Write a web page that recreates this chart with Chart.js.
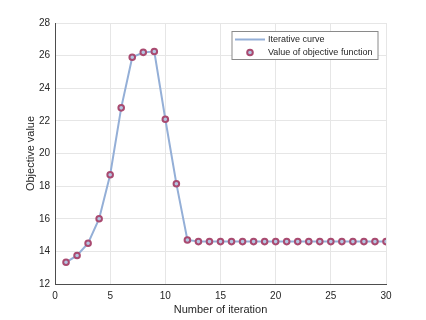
<!DOCTYPE html>
<html>
<head>
<meta charset="utf-8">
<script src="https://cdn.jsdelivr.net/npm/chart.js@4"></script>
<style>
html,body{margin:0;padding:0;background:#fff;}
#wrap{width:426px;height:320px;}
</style>
</head>
<body>
<div id="wrap"><canvas id="c" width="426" height="320"></canvas></div>
<script>
const iterations = [1,2,3,4,5,6,7,8,9,10,11,12,13,14,15,16,17,18,19,20,21,22,23,24,25,26,27,28,29,30];
const objectiveValues = [13.33,13.75,14.5,16.0,18.7,22.8,25.9,26.2,26.25,22.1,18.15,14.7,14.6,14.6,14.6,14.6,14.6,14.6,14.6,14.6,14.6,14.6,14.6,14.6,14.6,14.6,14.6,14.6,14.6,14.6];
const xTicks = [0,5,10,15,20,25,30];
const yTicks = [12,14,16,18,20,22,24,26,28];
const seriesNames = ['Iterative curve','Value of objective function'];

const FONT = 'Liberation Sans, Arial, Helvetica, sans-serif';
const lineColor = '#94afd7';
const markerEdge = '#a94a70';
const markerFill = '#b4c6e2';

const pts = iterations.map((x,i)=>({x:x,y:objectiveValues[i]}));

const legendPlugin = {
  id:'boxLegend',
  afterDraw(chart){
    const ctx = chart.ctx;
    const x0 = 232, y0 = 31.5, w = 146, h = 28;
    ctx.save();
    ctx.fillStyle = '#fff';
    ctx.fillRect(x0,y0,w,h);
    ctx.strokeStyle = '#8a8a8a';
    ctx.lineWidth = 1;
    ctx.strokeRect(x0,y0,w,h);
    ctx.strokeStyle = lineColor;
    ctx.lineWidth = 2;
    ctx.beginPath(); ctx.moveTo(235,39.5); ctx.lineTo(265,39.5); ctx.stroke();
    ctx.beginPath(); ctx.arc(250,52.5,2.8,0,Math.PI*2);
    ctx.fillStyle = markerFill; ctx.fill();
    ctx.strokeStyle = markerEdge; ctx.lineWidth = 2; ctx.stroke();
    ctx.fillStyle = '#262626';
    ctx.font = '9px ' + FONT;
    ctx.textBaseline = 'middle';
    ctx.textAlign = 'left';
    ctx.fillText(seriesNames[0], 268, 40);
    ctx.fillText(seriesNames[1], 268, 52.5);
    ctx.restore();
  }
};

new Chart(document.getElementById('c'), {
  type:'line',
  data:{
    datasets:[
      {label:seriesNames[0], data:pts, borderColor:lineColor, borderWidth:2, pointRadius:0, tension:0, fill:false, order:2},
      {label:seriesNames[1], data:pts, showLine:false, pointRadius:2.8, pointBorderWidth:2, pointBorderColor:markerEdge, pointBackgroundColor:markerFill, order:1}
    ]
  },
  options:{
    responsive:false,
    animation:false,
    devicePixelRatio:1,
    layout:{padding:{left:0,right:40,top:23,bottom:0}},
    plugins:{legend:{display:false}, tooltip:{enabled:false}},
    scales:{
      x:{
        type:'linear', min:0, max:30,
        afterBuildTicks(s){ s.ticks = xTicks.map(v=>({value:v})); },
        afterFit(s){ s.height = 36; },
        grid:{color:'#e6e6e6', drawTicks:false, lineWidth:1},
        border:{color:'#4d4d4d', width:1},
        ticks:{font:{family:FONT,size:10}, color:'#262626', padding:6, maxRotation:0},
        title:{display:true, text:'Number of iteration', font:{family:FONT,size:11}, color:'#262626', padding:{top:0,bottom:3}}
      },
      y:{
        type:'linear', min:12, max:28,
        afterBuildTicks(s){ s.ticks = yTicks.map(v=>({value:v})); },
        afterFit(s){ s.width = 55; },
        grid:{color:'#e6e6e6', drawTicks:false, lineWidth:1},
        border:{color:'#4d4d4d', width:1},
        ticks:{font:{family:FONT,size:10}, color:'#262626', padding:5},
        title:{display:true, text:'Objective value', font:{family:FONT,size:11}, color:'#262626', padding:{top:24,bottom:0}}
      }
    }
  },
  plugins:[legendPlugin]
});
</script>
</body>
</html>
